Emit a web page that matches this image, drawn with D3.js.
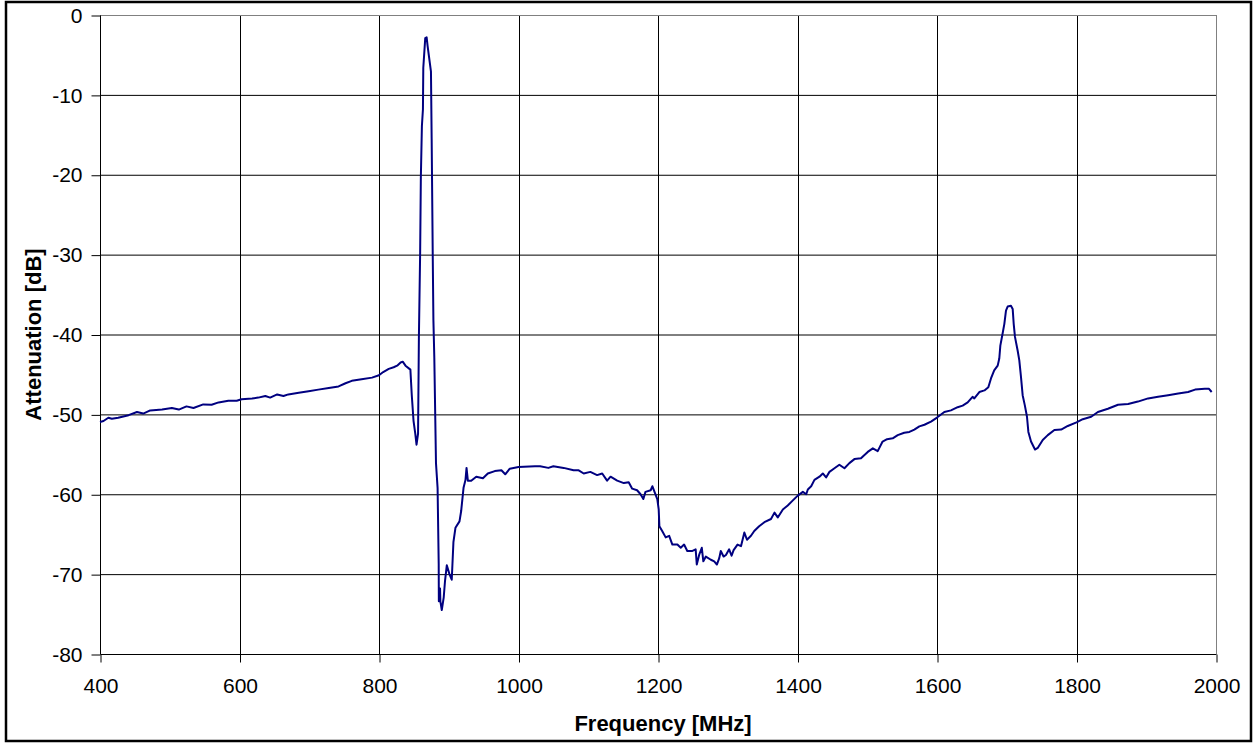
<!DOCTYPE html>
<html>
<head>
<meta charset="utf-8">
<script src="https://cdn.jsdelivr.net/npm/d3@7/dist/d3.min.js"></script>
<style>
  html, body { margin: 0; padding: 0; background: #fff; }
  svg { display: block; }
  text { font-family: "Liberation Sans", Arial, sans-serif; }
</style>
</head>
<body>
<svg id="chart" width="1256" height="744"></svg>
<script>
const freqMHz = [400,405,412,417,426,441,453,462,472,489,503,513,524,534,548,560,570,584,596,603,618,627,637,644,654,663,670,685,699,713,728,742,752,761,775,790,800,806,814,821,826,831,834,838,845,847,849.5,852,853.8,856,857.2,859,860,861.5,863,863.5,866.3,868.3,869.7,874.5,875.5,877,878,879.3,881.7,884,885.6,885.8,887.5,888,890,892.8,894.7,897.2,901,904.3,906.7,909.6,915.4,917.8,921.2,924,925.5,927.4,932.2,939.4,949,956,966,975.5,981,987.5,1000,1023.6,1031,1042.8,1050,1064.7,1079,1086.3,1093.5,1103,1112.7,1120,1127,1132,1141.5,1151,1158,1163,1170,1175,1179,1182,1189.5,1192,1195,1199,1201,1202,1206,1211,1216,1220.6,1227.8,1232.6,1237.4,1242,1249.4,1254,1255.6,1259,1262.8,1265,1268.6,1275.8,1280.6,1284.4,1287.8,1290,1294,1297.4,1302,1305.5,1308.4,1314,1319,1323.8,1327.6,1333.3,1338,1345,1352.5,1362,1367,1371.7,1379,1386,1393,1400,1407.7,1412.5,1414.8,1419.6,1424.3,1431.5,1436.3,1441,1445.8,1453,1460,1467.3,1474.4,1481.6,1491,1500.7,1508,1515,1522,1528.4,1536.5,1543.7,1553,1560.4,1567.5,1574.7,1582,1591.4,1600,1610.5,1620,1629.6,1636.8,1644,1651,1653.5,1660.7,1668,1673.6,1677.4,1682,1687,1689.3,1690.8,1694,1696.5,1698.9,1701.3,1706,1708.5,1710,1711.8,1715.6,1718,1720.4,1722.8,1726,1729,1731,1734.8,1740.5,1744.4,1751.6,1758.8,1768.3,1778,1787.5,1800,1809,1821,1830.7,1845,1859.5,1874,1888,1902.6,1917,1931.4,1945.8,1960,1970,1984,1990,1993.8];
const attenDb = [-50.96,-50.83,-50.42,-50.54,-50.42,-50.1,-49.7,-49.9,-49.5,-49.4,-49.2,-49.4,-49.0,-49.2,-48.75,-48.8,-48.5,-48.3,-48.3,-48.1,-48.0,-47.9,-47.7,-47.9,-47.5,-47.7,-47.5,-47.3,-47.1,-46.9,-46.7,-46.5,-46.1,-45.8,-45.6,-45.4,-45.1,-44.7,-44.3,-44.1,-43.9,-43.5,-43.4,-43.9,-44.4,-47.6,-50.8,-52.4,-53.8,-52.4,-40.3,-29.7,-20.3,-13.9,-11.8,-6.6,-2.9,-2.8,-3.9,-7.1,-15.5,-29.7,-38.2,-42.9,-56.1,-59.2,-68.7,-73.4,-71.8,-73.4,-74.5,-72.9,-70.8,-68.9,-70,-70.7,-66,-64.2,-63.4,-62.1,-59.2,-58.2,-56.7,-58.3,-58.3,-57.8,-58,-57.4,-57.1,-57,-57.5,-56.8,-56.6,-56.5,-56.5,-56.7,-56.5,-56.7,-57.0,-57.0,-57.4,-57.2,-57.6,-57.4,-58.3,-57.8,-58.3,-58.6,-58.5,-59.3,-59.5,-60,-60.6,-59.7,-59.5,-59,-59.7,-60.6,-61.9,-64,-64.6,-65.4,-65.2,-66.3,-66.3,-66.7,-66.3,-67.1,-67.1,-66.9,-68.8,-67.6,-66.7,-68.4,-67.8,-68.2,-68.4,-68.8,-68,-67.1,-67.8,-67.6,-66.9,-67.7,-67,-66.3,-66.5,-64.8,-65.7,-65.2,-64.6,-64,-63.5,-63.1,-62.3,-62.9,-61.9,-61.4,-60.8,-60.2,-59.7,-60,-59.4,-59,-58.2,-57.8,-57.4,-57.9,-57.2,-56.75,-56.3,-56.75,-56.1,-55.6,-55.5,-54.7,-54.25,-54.6,-53.4,-53.1,-53,-52.6,-52.3,-52.2,-51.9,-51.5,-51.3,-50.9,-50.4,-49.7,-49.5,-49.1,-48.9,-48.5,-47.8,-48.0,-47.2,-47.0,-46.6,-45.5,-44.5,-43.9,-43.0,-41.4,-39.9,-38.7,-37,-36.5,-36.4,-36.8,-38.7,-40.3,-42,-43.25,-45.3,-47.6,-48.9,-50.3,-52.2,-53.4,-54.4,-54.2,-53.2,-52.6,-51.95,-51.9,-51.45,-51.0,-50.6,-50.3,-49.7,-49.3,-48.8,-48.7,-48.4,-48,-47.8,-47.6,-47.4,-47.2,-46.9,-46.8,-46.8,-47.2];
const xTicks = [400,600,800,1000,1200,1400,1600,1800,2000];
const yTicks = [0,-10,-20,-30,-40,-50,-60,-70,-80];
const xTitle = "Frequency [MHz]";
const yTitle = "Attenuation [dB]";

(function () {
const svg = d3.select("#chart");
const pLeft = 100, pRight = 1216, pTop = 15, pBottom = 654;
const fontFam = '"Liberation Sans", Arial, sans-serif';

// outer border
svg.append("rect").attr("x", 6).attr("y", 2).attr("width", 1245).attr("height", 739)
  .attr("fill", "#fff").attr("stroke", "#000").attr("stroke-width", 2.5);

const x = d3.scaleLinear().domain([400, 2000]).range([pLeft, pRight]);
const y = d3.scaleLinear().domain([-80, 0]).range([pBottom, pTop]);

// gridlines
const g = svg.append("g");
g.selectAll("line.hg").data(yTicks.filter(v => v !== 0 && v !== -80)).enter().append("line")
  .attr("x1", pLeft).attr("x2", pRight).attr("y1", d => y(d) + 0.5).attr("y2", d => y(d) + 0.5)
  .attr("stroke", "#000").attr("stroke-width", 1);
g.selectAll("line.vg").data(xTicks.filter(v => v !== 400 && v !== 2000)).enter().append("line")
  .attr("y1", pTop).attr("y2", pBottom).attr("x1", d => Math.round(x(d)) + 0.5).attr("x2", d => Math.round(x(d)) + 0.5)
  .attr("stroke", "#000").attr("stroke-width", 1);
// plot border top/right gray
g.append("line").attr("x1", pLeft).attr("x2", pRight).attr("y1", pTop + 0.5).attr("y2", pTop + 0.5)
  .attr("stroke", "#808080").attr("stroke-width", 1);
g.append("line").attr("x1", pRight + 0.5).attr("x2", pRight + 0.5).attr("y1", pTop).attr("y2", pBottom)
  .attr("stroke", "#808080").attr("stroke-width", 1);

// axes
const fmt = d => String(d);
const xAxis = d3.axisBottom(x).tickValues(xTicks).tickSize(8).tickPadding(16).tickFormat(fmt);
const yAxis = d3.axisLeft(y).tickValues(yTicks).tickSize(9).tickPadding(9).tickFormat(fmt);
const xa = svg.append("g").attr("transform", `translate(0.5,${pBottom + 0.5})`).call(xAxis);
const ya = svg.append("g").attr("transform", `translate(${pLeft + 0.5},0.5)`).call(yAxis);
[xa, ya].forEach(a => {
  a.select(".domain").attr("stroke", "#000").attr("stroke-width", 1);
  a.selectAll(".tick line").attr("stroke", "#000");
  a.selectAll("text").attr("fill", "#000").style("font-size", "21px").style("font-family", fontFam);
});
xa.select(".domain").attr("d", `M${pLeft},0H${pRight}`);
ya.select(".domain").attr("d", `M0,${pTop}V${pBottom}`);

// line
const line = d3.line().x((d, i) => x(freqMHz[i])).y((d, i) => y(attenDb[i]));
svg.append("path").datum(attenDb).attr("d", line)
  .attr("fill", "none").attr("stroke", "#000080").attr("stroke-width", 2)
  .attr("stroke-linejoin", "round");

// titles
svg.append("text").attr("x", (pLeft + pRight) / 2 + 5).attr("y", 731)
  .attr("text-anchor", "middle").style("font-size", "22px").style("font-weight", "bold")
  .style("font-family", fontFam).text(xTitle);
svg.append("text").attr("transform", `translate(41,${(pTop + pBottom) / 2}) rotate(-90)`)
  .attr("text-anchor", "middle").style("font-size", "22px").style("font-weight", "bold")
  .style("font-family", fontFam).text(yTitle);
})();
</script>
</body>
</html>
